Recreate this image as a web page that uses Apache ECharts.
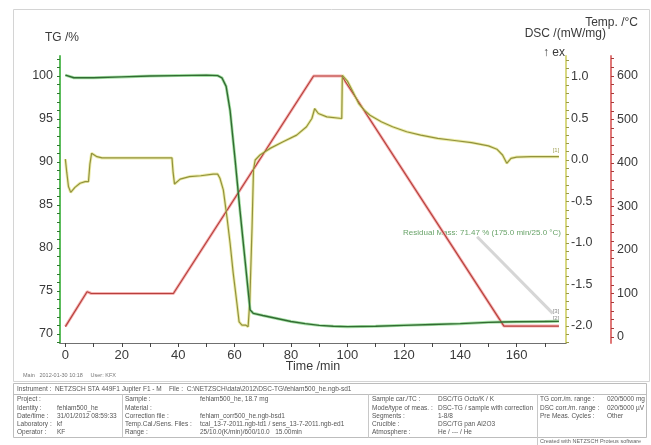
<!DOCTYPE html>
<html>
<head>
<meta charset="utf-8">
<title>fehlam500_he TG / DSC</title>
<script src="https://cdn.jsdelivr.net/npm/echarts@6/dist/echarts.min.js"></script>
<style>
  html, body { margin: 0; padding: 0; background: #ffffff; }
  #chart { width: 651px; height: 445px; }
</style>
</head>
<body>
<div id="chart"></div>
<script>
// Mass loss (TG), heat flow (DSC) and furnace temperature against time
const tgTime = [0, 0.7, 3, 10, 20, 30, 40, 50, 54, 55.5, 57, 58.4, 60.2, 61.9, 63.7, 65.5, 66.6, 70, 75, 80, 85, 90, 95, 100, 110, 120, 130, 140, 150, 155, 160, 170, 175];
const tgMass = [100.1, 99.9, 99.8, 99.8, 99.9, 100.0, 100.05, 100.1, 100.05, 99.8, 98.8, 96.0, 90.2, 84.4, 78.6, 72.8, 72.4, 72.15, 71.8, 71.45, 71.2, 71.0, 70.9, 70.85, 70.9, 71.0, 71.1, 71.2, 71.35, 71.4, 71.42, 71.45, 71.47];

const dscTime = [0, 0.5, 1.1, 1.9, 3.4, 5.2, 7, 8.2, 8.7, 9.3, 11.2, 13, 20, 30, 37.8, 38.2, 38.7, 40.7, 44, 48, 52.4, 54, 54.8, 56, 57.3, 58.4, 59.5, 60.8, 61.6, 62.6, 64, 64.8, 65.4, 66.2, 66.7, 67.3, 69, 72.6, 77.2, 82, 85.5, 87.4, 88.4, 89.7, 92.7, 98, 98.2, 100, 102, 104, 106, 108, 112, 116, 121, 126, 132, 138, 144, 150, 153, 155, 156.5, 158, 160, 165, 175];
const dscSignal = [0.01, -0.15, -0.32, -0.39, -0.33, -0.28, -0.26, -0.26, -0.05, 0.08, 0.04, 0.025, 0.025, 0.025, 0.025, -0.15, -0.29, -0.23, -0.2, -0.19, -0.17, -0.17, -0.22, -0.36, -0.69, -1.0, -1.36, -1.72, -1.95, -1.99, -1.99, -2.01, -1.7, -0.8, -0.12, 0.0, 0.06, 0.14, 0.22, 0.30, 0.40, 0.50, 0.62, 0.56, 0.52, 0.50, 1.02, 0.95, 0.82, 0.68, 0.60, 0.54, 0.46, 0.40, 0.34, 0.30, 0.26, 0.235, 0.21, 0.17, 0.13, 0.06, -0.04, 0.02, 0.035, 0.04, 0.04];

const tempTime = [0, 7.7, 8.2, 9.2, 38.3, 88, 98, 155.5, 175];
const tempValue = [24, 104, 106, 100, 100, 600, 600, 25, 25];

// Tick positions and labels
const timeLabels = [0, 20, 40, 60, 80, 100, 120, 140, 160];
const timeTicks = [0, 10, 20, 30, 40, 50, 60, 70, 80, 90, 100, 110, 120, 130, 140, 150, 160, 170];
const tgLabels = [70, 75, 80, 85, 90, 95, 100];
const tgTicks = [69, 70, 71, 72, 73, 74, 75, 76, 77, 78, 79, 80, 81, 82, 83, 84, 85, 86, 87, 88, 89, 90, 91, 92, 93, 94, 95, 96, 97, 98, 99, 100, 101, 102];
const dscLabels = [-2.0, -1.5, -1.0, -0.5, 0.0, 0.5, 1.0];
const dscTicks = [-2.2, -2.1, -2.0, -1.9, -1.8, -1.7, -1.6, -1.5, -1.4, -1.3, -1.2, -1.1, -1.0, -0.9, -0.8, -0.7, -0.6, -0.5, -0.4, -0.3, -0.2, -0.1, 0.0, 0.1, 0.2, 0.3, 0.4, 0.5, 0.6, 0.7, 0.8, 0.9, 1.0, 1.1, 1.2];
const tempLabels = [0, 100, 200, 300, 400, 500, 600];
const tempTicks = [0, 20, 40, 60, 80, 100, 120, 140, 160, 180, 200, 220, 240, 260, 280, 300, 320, 340, 360, 380, 400, 420, 440, 460, 480, 500, 520, 540, 560, 580, 600, 620, 640];

// Residual mass annotation
const residualText = 'Residual Mass: 71.47 % (175.0 min/25.0 °C)';
const residualLeader = [[146, 81.3], [172.8, 72.4]];

// Measurement info block
const infoInstrument = 'Instrument :  NETZSCH STA 449F1 Jupiter F1 - M    File :  C:\\NETZSCH\\data\\2012\\DSC-TG\\fehlam500_he.ngb-sd1';
const infoCol1Keys = ['Project :', 'Identity :', 'Date/time :', 'Laboratory :', 'Operator :'];
const infoCol1Vals = ['', 'fehlam500_he', '31/01/2012 08:59:33', 'kf', 'KF'];
const infoCol2Keys = ['Sample :', 'Material :', 'Correction file :', 'Temp.Cal./Sens. Files :', 'Range :'];
const infoCol2Vals = ['fehlam500_he, 18.7 mg', '', 'fehlam_corr500_he.ngb-bsd1', 'tcal_13-7-2011.ngb-td1 / sens_13-7-2011.ngb-ed1', '25/10.0(K/min)/600/10.0   15.00min'];
const infoCol3Keys = ['Sample car./TC :', 'Mode/type of meas. :', 'Segments :', 'Crucible :', 'Atmosphere :'];
const infoCol3Vals = ['DSC/TG Octo/K / K', 'DSC-TG / sample with correction', '1-8/8', 'DSC/TG pan Al2O3', 'He / --- / He'];
const infoCol4Keys = ['TG corr./m. range :', 'DSC corr./m. range :', 'Pre Meas. Cycles :'];
const infoCol4Vals = ['020/5000 mg', '020/5000 µV', 'Other'];

const FONT = '"Liberation Sans", Arial, sans-serif';

const zip = (a, b) => a.map((v, i) => [v, b[i]]);
const tgData = zip(tgTime, tgMass);
const dscData = zip(dscTime, dscSignal);
const tempData = zip(tempTime, tempValue);

function lineSeries(data, axis, color, width, z) {
  return {
    type: 'line', yAxisIndex: axis, data: data, showSymbol: false, symbol: 'none',
    silent: true, z: z, lineStyle: { color: color, width: width }
  };
}

function txt(x, y, s, size, color, align) {
  return {
    type: 'text', x: x, y: y, silent: true,
    style: { text: s, fontSize: size, fontFamily: FONT, fill: color, align: align || 'left', verticalAlign: 'middle' }
  };
}

const graphics = [];
// outer frame around the plot
graphics.push({ type: 'rect', silent: true, z: -10, shape: { x: 13.5, y: 9.5, width: 636, height: 372 }, style: { fill: 'none', stroke: '#d4d4d4', lineWidth: 1 } });
// axis titles
graphics.push(txt(45, 38, 'TG /%', 12, '#3a3a3a'));
graphics.push(txt(638, 23, 'Temp. /°C', 12, '#3a3a3a', 'right'));
graphics.push(txt(606, 34, 'DSC /(mW/mg)', 12, '#3a3a3a', 'right'));
graphics.push(txt(565, 53, '↑ ex', 12, '#3a3a3a', 'right'));
graphics.push(txt(313, 367, 'Time /min', 12.5, '#3a3a3a', 'center'));
graphics.push(txt(23, 375, 'Main   2012-01-30 10:18     User: KFX', 5.5, '#777'));
// residual mass note and curve tags
graphics.push(txt(561, 233, residualText, 8, '#6aa46a', 'right'));
graphics.push(txt(556, 150, '[1]', 6, '#a3a35a', 'center'));
graphics.push(txt(556, 311, '[3]', 6, '#8a8a8a', 'center'));
graphics.push(txt(556, 318, '[2]', 6, '#8a8a8a', 'center'));

// info table
const tb = { l: 13.5, r: 646.5, t: 383.5, b: 437.5 };
graphics.push({ type: 'rect', silent: true, shape: { x: tb.l, y: tb.t, width: tb.r - tb.l, height: tb.b - tb.t }, style: { fill: 'none', stroke: '#bdbdbd', lineWidth: 1 } });
graphics.push({ type: 'line', silent: true, shape: { x1: tb.l, y1: 394.5, x2: tb.r, y2: 394.5 }, style: { stroke: '#bdbdbd', lineWidth: 1 } });
[122.5, 368.5].forEach(x => graphics.push({ type: 'line', silent: true, shape: { x1: x, y1: 394.5, x2: x, y2: tb.b }, style: { stroke: '#c8c8c8', lineWidth: 1 } }));
graphics.push({ type: 'line', silent: true, shape: { x1: 537.5, y1: 394.5, x2: 537.5, y2: 445 }, style: { stroke: '#c8c8c8', lineWidth: 1 } });
graphics.push(txt(17, 389, infoInstrument, 6.5, '#555'));
const rowY = [399.5, 407.8, 416.1, 424.4, 432.7];
function column(keys, vals, xk, xv) {
  keys.forEach((k, i) => {
    graphics.push(txt(xk, rowY[i], k, 6.5, '#555'));
    if (vals[i]) graphics.push(txt(xv, rowY[i], vals[i], 6.5, '#555'));
  });
}
column(infoCol1Keys, infoCol1Vals, 17, 57);
column(infoCol2Keys, infoCol2Vals, 125, 200);
column(infoCol3Keys, infoCol3Vals, 372, 438);
column(infoCol4Keys, infoCol4Vals, 540, 607);
graphics.push(txt(540, 441, 'Created with NETZSCH Proteus software', 5.5, '#666'));

const chart = echarts.init(document.getElementById('chart'), null, { renderer: 'canvas' });

const tickLbl = { fontSize: 12.5, color: '#3a3a3a', fontFamily: FONT };

chart.setOption({
  animation: false,
  backgroundColor: '#ffffff',
  grid: { left: 60, right: 85, top: 56, bottom: 102, containLabel: false },
  xAxis: {
    type: 'value', min: -1.9, max: 177.5,
    splitLine: { show: false },
    axisLine: { onZero: false, lineStyle: { color: '#707070', width: 1 } },
    axisTick: { customValues: timeTicks, length: 4, lineStyle: { color: '#444' } },
    axisLabel: { customValues: timeLabels, margin: 6, fontSize: 13, color: '#3a3a3a', fontFamily: FONT }
  },
  yAxis: [
    {
      type: 'value', position: 'left', min: 68.95, max: 102.33,
      splitLine: { show: false },
      axisLine: { show: true, onZero: false, lineStyle: { color: '#5cbc5c', width: 2 } },
      axisTick: { show: true, customValues: tgTicks, length: 3, lineStyle: { color: '#2f7a2f' } },
      axisLabel: Object.assign({ customValues: tgLabels, margin: 7 }, tickLbl)
    },
    {
      type: 'value', position: 'right', offset: 0, min: -2.205, max: 1.253,
      splitLine: { show: false },
      axisLine: { show: true, onZero: false, lineStyle: { color: '#d8d882', width: 2 } },
      axisTick: { show: true, customValues: dscTicks, length: 3, lineStyle: { color: '#9a9a48' } },
      axisLabel: Object.assign({ customValues: dscLabels, margin: 5, formatter: v => Number(v).toFixed(1) }, tickLbl)
    },
    {
      type: 'value', position: 'right', offset: 45, min: -13.8, max: 646,
      splitLine: { show: false },
      axisLine: { show: true, onZero: false, lineStyle: { color: '#e07878', width: 2 } },
      axisTick: { show: true, customValues: tempTicks, length: 3, lineStyle: { color: '#a83a3a' } },
      axisLabel: Object.assign({ customValues: tempLabels, margin: 6 }, tickLbl)
    }
  ],
  series: [
    // soft halo under each curve
    lineSeries(tempData, 2, '#f4b4b4', 3, 1),
    lineSeries(dscData, 1, '#ececa8', 3, 1),
    lineSeries(tgData, 0, '#a6e2a6', 3, 1),
    // curve cores
    lineSeries(tempData, 2, '#b8403c', 1.2, 3),
    lineSeries(dscData, 1, '#92923e', 1.2, 3),
    Object.assign(lineSeries(tgData, 0, '#336b33', 1.4, 4), {
      markLine: {
        silent: true, symbol: ['none', 'none'], z: 0,
        label: { show: false },
        lineStyle: { color: '#d6d6d6', width: 3, type: 'solid' },
        data: [[{ coord: residualLeader[0] }, { coord: residualLeader[1] }]]
      }
    })
  ],
  graphic: graphics
});
</script>
</body>
</html>
